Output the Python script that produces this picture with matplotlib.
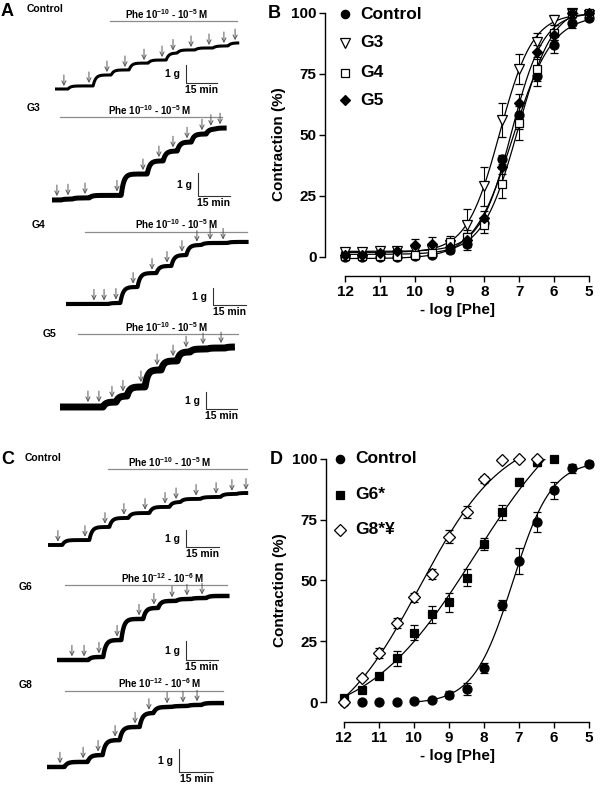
import numpy as np
import matplotlib
matplotlib.use('Agg')
import matplotlib.pyplot as plt

plt.rcParams['font.family'] = ['Liberation Sans', 'DejaVu Sans']
plt.rcParams['font.weight'] = 'bold'
plt.rcParams['axes.labelweight'] = 'bold'
plt.rcParams['mathtext.fontset'] = 'custom'
plt.rcParams['mathtext.rm'] = 'Liberation Sans:bold'
plt.rcParams['mathtext.bf'] = 'Liberation Sans:bold'
plt.rcParams['mathtext.it'] = 'Liberation Sans:bold'
plt.rcParams['mathtext.default'] = 'rm'

# ---- concentration-response data (% contraction vs -log[Phe]) ----
log_phe = [12, 11.5, 11, 10.5, 10, 9.5, 9, 8.5, 8, 7.5, 7, 6.5, 6, 5.5, 5]

ctrl = [0, 0, 0, 0, 0.5, 1, 3, 5.5, 14, 40, 58, 74, 87, 96, 98]
ctrl_err = [0, 0, 0, 0, 0.5, 0.8, 1.5, 2.5, 2, 2, 5.5, 4, 3.5, 2, 1]
g3 = [2, 2, 2.5, 2.5, 3, 3, 5, 13, 29, 56, 77, 88, 97, 100, 99]
g3_err = [0.5, 0.5, 1, 1, 1, 1.5, 2, 6.5, 8, 7, 6, 4, 2, 1, 2]
g4 = [0.5, 0.5, 0.5, 0.5, 1, 1.5, 6, 8, 13, 30, 55, 77, 92, 100, 100]
g4_err = [0.5, 0.5, 0.5, 0.5, 1, 1, 2.5, 3, 3, 6, 7, 5, 3, 1, 1]
g5 = [1, 1, 1.5, 2.5, 5, 5.5, 4, 7, 16, 37, 63, 84, 91, 100, 100]
g5_err = [1, 1, 1.5, 1.5, 2.5, 2.5, 2, 3, 3, 3, 4, 3, 2, 1, 1]

g6 = [1.5, 5, 10.5, 18, 28.5, 36, 41, 51, 65, 78, 90.5, 98.5, 100]
g6_err = [0.5, 1, 1, 3, 3, 3.5, 4, 3.5, 2.5, 3, 1.5, 1.5, 0]
g8 = [0, 10, 20, 32.5, 43, 52.5, 68, 78, 91.5, 99.5, 100, 100]
g8_err = [0, 1, 2, 2, 2, 2, 2.5, 2.5, 1.5, 0.5, 0, 0]

# ---- tension traces: Phe addition times (min) and tension reached (g) ----
ctrlA_t = [4.3, 16.4, 25.1, 33.8, 43.0, 51.7, 57.0, 65.7, 74.4, 81.6, 87.0]
ctrlA_g = [0.17, 0.78, 1.06, 1.44, 1.61, 2.00, 2.17, 2.28, 2.39, 2.56, 2.58]
g3A_t = [2.3, 7.5, 15.5, 30.5, 42.7, 50.2, 56.8, 63.4, 70.4, 74.6, 78.9]
g3A_g = [0.04, 0.09, 0.2, 1.13, 1.70, 2.13, 2.52, 2.87, 3.09, 3.13, 3.13]
g4A_t = [12.7, 17.3, 22.7, 30.5, 39.1, 45.9, 52.7, 59.5, 65.5, 71.4]
g4A_g = [0, 0.06, 1.0, 1.82, 2.24, 2.88, 3.47, 3.59, 3.59, 3.65]
g5A_t = [13.5, 18.8, 25.1, 30.4, 39.1, 46.9, 54.6, 60.9, 69.1, 77.8]
g5A_g = [0, 0.29, 0.65, 1.18, 2.18, 2.71, 3.24, 3.41, 3.47, 3.53]
ctrlC_t = [4.5, 16.8, 25.9, 34.5, 44.1, 53.2, 58.2, 67.3, 76.4, 83.6, 90.0]
ctrlC_g = [0.29, 1.06, 1.59, 1.88, 2.24, 2.53, 2.71, 2.82, 3.0, 3.06, 3.12]
g6C_t = [7.0, 12.7, 19.7, 28.2, 38.5, 45.5, 54.0, 61.0, 68.1]
g6C_g = [0, 0.16, 1.05, 2.16, 2.74, 3.11, 3.21, 3.26, 3.37]
g8C_t = [5.7, 15.9, 22.5, 30.0, 38.8, 44.9, 52.9, 59.9, 66.1]
g8C_g = [0.22, 0.52, 1.17, 1.74, 2.35, 2.61, 2.65, 2.70, 2.78]
trace_end = [89, 82, 83, 84.5, 91, 81, 78]

dose_a = r'Phe 10$^{-10}$ - 10$^{-5}$ M'
dose_c = r'Phe 10$^{-12}$ - 10$^{-6}$ M'

W, H = 600, 786
fig = plt.figure(figsize=(W / 100, H / 100), dpi=100)

# pixel overlay for annotations
lay = fig.add_axes([0, 0, 1, 1])
lay.set_xlim(0, W)
lay.set_ylim(H, 0)
lay.axis('off')


def steps(t, times, levels, delay=2.0, tau=1.2):
    y = np.zeros_like(t)
    prev = 0.0
    for ti, li in zip(times, levels):
        on = t > ti + delay
        y[on] += (li - prev) * (1 - np.exp(-(t[on] - ti - delay) / tau))
        prev = li
    return y


# layout of each trace: label, origin px, px/min, px/g, line width, scale bar corner, Phe bar
traces = [
    ('Control', (27, 9), ctrlA_t, ctrlA_g, 55, 89, 2.07, 18, 2.2, (186, 83), (110, 237, 21), (167, 14), dose_a),
    ('G3', (27, 108), g3A_t, g3A_g, 52, 200, 2.13, 23, 3.6, (198, 196), (60, 222, 117), (150, 110), dose_a),
    ('G4', (32, 225), g4A_t, g4A_g, 66, 304, 2.2, 17, 3.0, (213, 305), (85, 247, 232), (177, 224), dose_a),
    ('G5', (43, 334), g5A_t, g5A_g, 60, 407, 2.07, 17, 5.0, (206, 409), (78, 238, 334), (167, 327), dose_a),
    ('Control', (25, 458), ctrlC_t, ctrlC_g, 48, 545, 2.2, 17, 2.8, (186, 547), (108, 247, 469), (170, 462), dose_a),
    ('G6', (19, 587), g6C_t, g6C_g, 57, 660, 2.13, 19, 3.2, (186, 660), (65, 227, 585), (163, 578), dose_c),
    ('G8', (19, 685), g8C_t, g8C_g, 47, 767, 2.27, 23, 3.2, (179, 772), (65, 223, 691), (160, 683), dose_c),
]

for k, (lab, lxy, tt, gg, x0, yb, ppm, ppg, lw, sb, bar, txy, dose) in enumerate(traces):
    top, bot = yb - 100, yb + 20
    ax = fig.add_axes([0, 1 - bot / H, 262 / W, (bot - top) / H])
    ax.set_xlim(-x0 / ppm, (262 - x0) / ppm)
    ax.set_ylim((yb - bot) / ppg, (yb - top) / ppg)
    ax.axis('off')
    t = np.linspace(0, trace_end[k], 800)
    y = steps(t, tt, gg)
    ax.plot(t, y, color='black', lw=lw, solid_capstyle='butt')
    for ti in tt:
        yi = np.interp(ti, t, y)
        ax.annotate('', xy=(ti, yi), xytext=(0, 9 + lw / 2), textcoords='offset points',
                    arrowprops=dict(arrowstyle='->,head_length=0.3,head_width=0.15',
                                    color='#555555', lw=0.7, shrinkA=0, shrinkB=1 + lw / 2))
    # scale bar 1 g / 15 min
    ct, cg = (sb[0] - x0) / ppm, (yb - sb[1]) / ppg
    ax.plot([ct, ct, ct + 15], [cg + 1, cg, cg], color='#333333', lw=0.8)
    lay.text(sb[0] - 6, sb[1] - ppg / 2, '1 g', ha='right', va='center', fontsize=7.5)
    lay.text(sb[0] + 15 * ppm / 2, sb[1] + 2, '15 min', ha='center', va='top', fontsize=7.5)
    lay.plot([bar[0], bar[1]], [bar[2], bar[2]], color='#8c8c8c', lw=0.9)
    lay.text(txy[0], txy[1], dose, ha='center', va='center', fontsize=7)
    lay.text(lxy[0], lxy[1], lab, ha='left', va='center', fontsize=7.5)

for letter, (px, py) in zip('ABCD', [(7.5, 12), (274, 14), (7.5, 460), (276, 459)]):
    lay.text(px, py, letter, ha='center', va='center', fontsize=13)


def hill(x, b, top, p, h):
    return b + (top - b) / (1 + 10 ** ((x - p) * h))


def fit_hill(x, y):
    x = np.asarray(x, float)
    y = np.asarray(y, float)
    p = np.arange(4, 13, 0.02)[:, None, None]
    h = np.arange(0.2, 3, 0.02)[None, :, None]
    s = 1 / (1 + 10 ** ((x - p) * h))
    sm = s.mean(-1)
    ym = y.mean()
    d = ((s - sm[..., None]) * (y - ym)).sum(-1) / ((s - sm[..., None]) ** 2).sum(-1)
    b = ym - d * sm
    res = ((b[..., None] + d[..., None] * s - y) ** 2).sum(-1)
    i, j = np.unravel_index(np.argmin(res), res.shape)
    return b[i, j], b[i, j] + d[i, j], p[i, 0, 0], h[0, j, 0]


def dr_axes(left, right, x12, top100, y0, bottom):
    ax = fig.add_axes([left / W, 1 - bottom / H, (right - left) / W, (bottom - top100) / H])
    ppu = (right - x12) / 7
    ax.set_xlim(12 + (x12 - left) / ppu, 5)
    ppv = (y0 - top100) / 100
    ax.set_ylim(-(bottom - y0) / ppv, 100)
    for s in ['top', 'right']:
        ax.spines[s].set_visible(False)
    ax.spines['left'].set_bounds(0, 100)
    ax.spines['bottom'].set_bounds(5, 12)
    for s in ['left', 'bottom']:
        ax.spines[s].set_linewidth(1.0)
    ax.set_yticks([0, 25, 50, 75, 100])
    ax.set_xticks([12, 11, 10, 9, 8, 7, 6, 5])
    ax.tick_params(axis='both', direction='out', length=4, width=1, labelsize=11)
    ax.tick_params(axis='y', pad=2)
    ax.tick_params(axis='x', pad=2.5)
    ax.set_ylabel('Contraction (%)', fontsize=11, labelpad=4)
    ax.set_xlabel('- log [Phe]', fontsize=11, labelpad=3)
    ax.patch.set_visible(False)
    return ax


def series(ax, y, err, marker, ms, mfc, x_from=12):
    x = log_phe[:len(y)]
    b, top, p, h = fit_hill(x, y)
    xs = np.linspace(x_from, 5, 300)
    ax.plot(xs, hill(xs, b, top, p, h), color='black', lw=0.9)
    c = ax.errorbar(x, y, yerr=err, fmt=marker, ms=ms, mfc=mfc, mec='black', mew=0.9,
                    ecolor='black', elinewidth=0.8, capsize=3, capthick=0.8)
    for a in c.get_children():
        a.set_clip_on(False)
    c[0].set_clip_on(False)


def legend(ax, rows, xm, xt):
    for (marker, ms, mfc, lab), yy in rows:
        ax.plot([xm], [yy], marker=marker, ms=ms, mfc=mfc, mec='black', mew=0.9,
                ls='none', transform=ax.transAxes, clip_on=False)
        ax.text(xt, yy, lab, transform=ax.transAxes, va='center', ha='left', fontsize=12.5)


axB = dr_axes(325, 589, 345, 13, 257, 276)
series(axB, ctrl, ctrl_err, 'o', 6.5, 'black')
series(axB, g3, g3_err, 'v', 7, 'white')
series(axB, g4, g4_err, 's', 6, 'white')
series(axB, g5, g5_err, 'D', 5.5, 'black')
legend(axB, [(('o', 6, 'black', 'Control'), 0.996), (('v', 6.5, 'white', 'G3'), 0.886),
             (('s', 6, 'white', 'G4'), 0.772), (('D', 5, 'black', 'G5'), 0.669)], 0.076, 0.133)

axD = dr_axes(326, 589, 344, 458.7, 702, 721.5)
series(axD, ctrl, ctrl_err, 'o', 6.5, 'black', x_from=10)
series(axD, g6, g6_err, 's', 6, 'black')
series(axD, g8, g8_err, 'D', 6, 'white')
legend(axD, [(('o', 6, 'black', 'Control'), 0.999), (('s', 6, 'black', 'G6*'), 0.862),
             (('D', 6, 'white', 'G8*¥'), 0.729)], 0.053, 0.110)

fig.savefig('out.png', dpi=100)
